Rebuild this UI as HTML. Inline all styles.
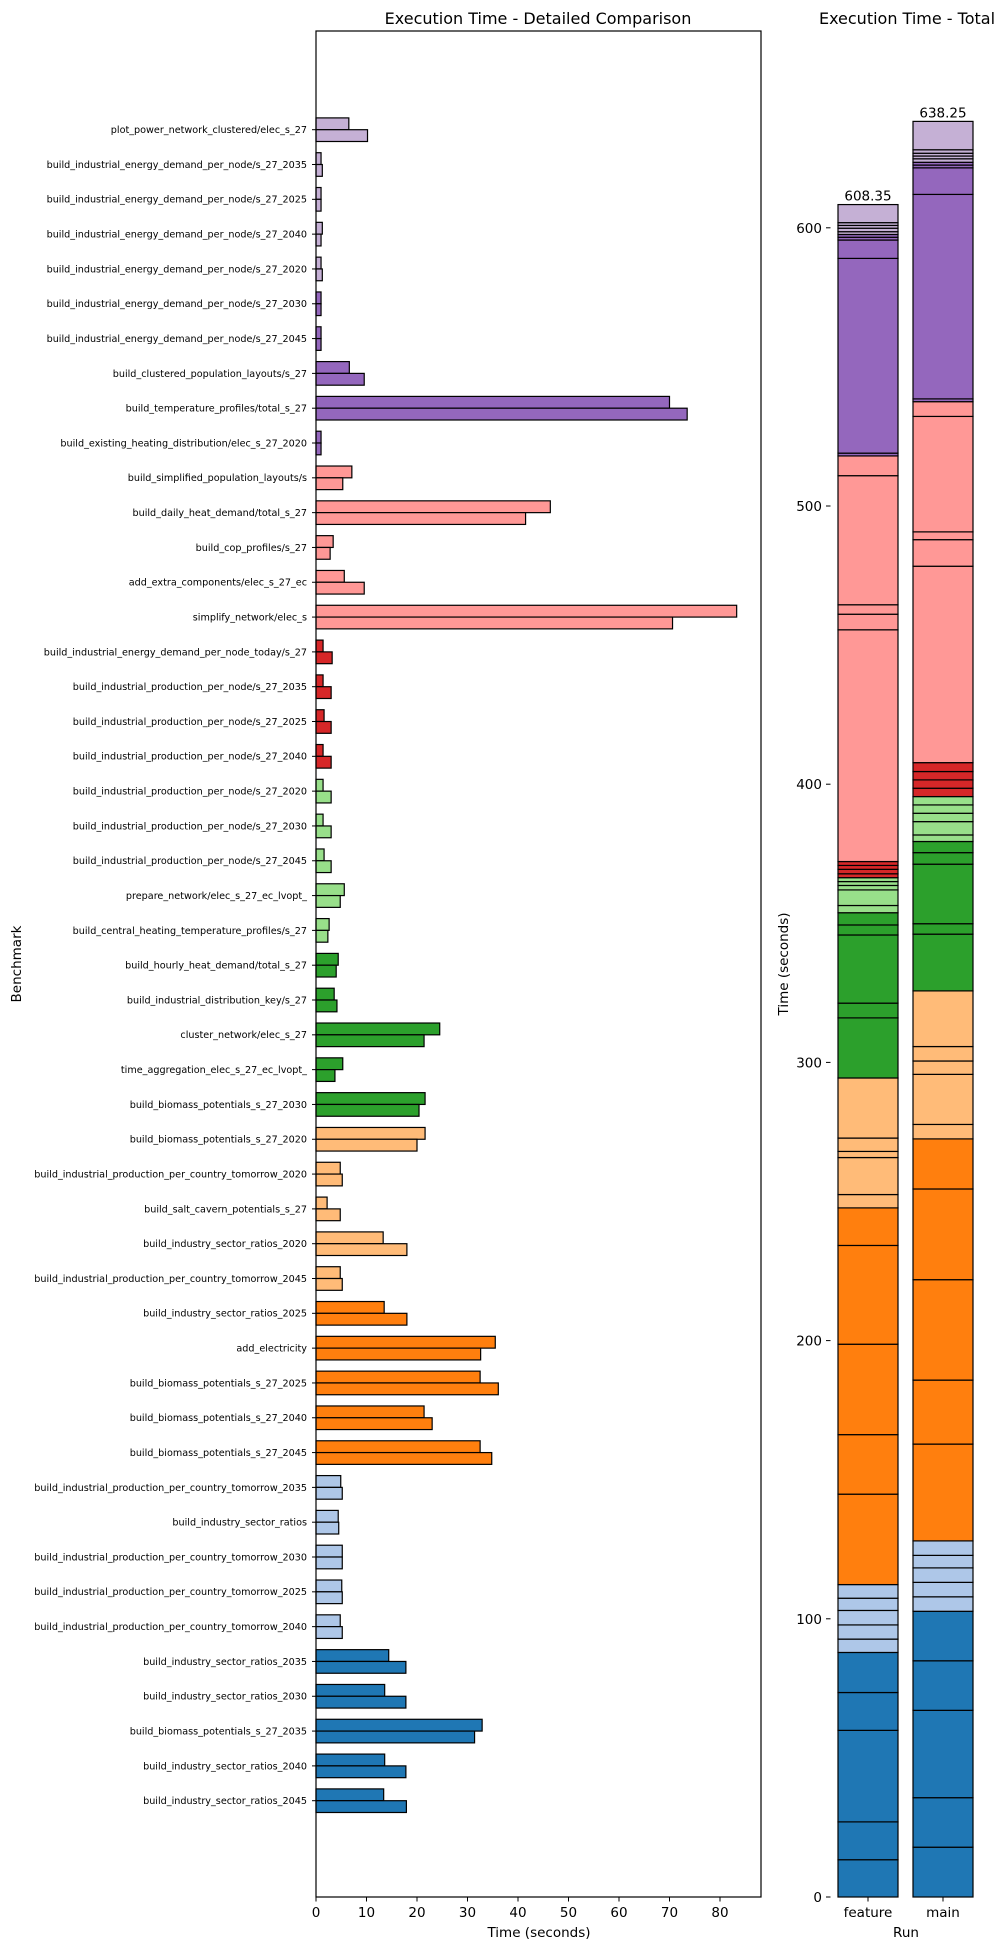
<!DOCTYPE html>
<html><head><meta charset="utf-8">
<style>
html,body{margin:0;padding:0;background:#fff;}
svg{display:block;font-family:"DejaVu Sans","Liberation Sans",sans-serif;}
</style></head>
<body>
<svg id="chart" width="1007" height="1950" viewBox="0 0 1007 1950" xmlns="http://www.w3.org/2000/svg">
<text x="538" y="24" font-size="16" text-anchor="middle">Execution Time - Detailed Comparison</text>
<text x="907" y="24" font-size="16" text-anchor="middle">Execution Time - Total</text>
<g id="left"></g>
<g id="right"></g>
<text x="539" y="1937" font-size="13.5" text-anchor="middle">Time (seconds)</text>
<text transform="translate(21,964) rotate(-90)" font-size="13.5" text-anchor="middle">Benchmark</text>
<text x="906" y="1937" font-size="13.5" text-anchor="middle">Run</text>
<text transform="translate(788,964) rotate(-90)" font-size="13.5" text-anchor="middle">Time (seconds)</text>
</svg>
<script>
const categories = [
"plot_power_network_clustered/elec_s_27",
"build_industrial_energy_demand_per_node/s_27_2035",
"build_industrial_energy_demand_per_node/s_27_2025",
"build_industrial_energy_demand_per_node/s_27_2040",
"build_industrial_energy_demand_per_node/s_27_2020",
"build_industrial_energy_demand_per_node/s_27_2030",
"build_industrial_energy_demand_per_node/s_27_2045",
"build_clustered_population_layouts/s_27",
"build_temperature_profiles/total_s_27",
"build_existing_heating_distribution/elec_s_27_2020",
"build_simplified_population_layouts/s",
"build_daily_heat_demand/total_s_27",
"build_cop_profiles/s_27",
"add_extra_components/elec_s_27_ec",
"simplify_network/elec_s",
"build_industrial_energy_demand_per_node_today/s_27",
"build_industrial_production_per_node/s_27_2035",
"build_industrial_production_per_node/s_27_2025",
"build_industrial_production_per_node/s_27_2040",
"build_industrial_production_per_node/s_27_2020",
"build_industrial_production_per_node/s_27_2030",
"build_industrial_production_per_node/s_27_2045",
"prepare_network/elec_s_27_ec_lvopt_",
"build_central_heating_temperature_profiles/s_27",
"build_hourly_heat_demand/total_s_27",
"build_industrial_distribution_key/s_27",
"cluster_network/elec_s_27",
"time_aggregation_elec_s_27_ec_lvopt_",
"build_biomass_potentials_s_27_2030",
"build_biomass_potentials_s_27_2020",
"build_industrial_production_per_country_tomorrow_2020",
"build_salt_cavern_potentials_s_27",
"build_industry_sector_ratios_2020",
"build_industrial_production_per_country_tomorrow_2045",
"build_industry_sector_ratios_2025",
"add_electricity",
"build_biomass_potentials_s_27_2025",
"build_biomass_potentials_s_27_2040",
"build_biomass_potentials_s_27_2045",
"build_industrial_production_per_country_tomorrow_2035",
"build_industry_sector_ratios",
"build_industrial_production_per_country_tomorrow_2030",
"build_industrial_production_per_country_tomorrow_2025",
"build_industrial_production_per_country_tomorrow_2040",
"build_industry_sector_ratios_2035",
"build_industry_sector_ratios_2030",
"build_biomass_potentials_s_27_2035",
"build_industry_sector_ratios_2040",
"build_industry_sector_ratios_2045"];
const featureTimes = [6.5,1.0,1.0,1.25,1.0,1.0,1.0,6.6,70.0,1.0,7.1,46.4,3.4,5.6,83.3,1.4,1.4,1.6,1.4,1.4,1.4,1.6,5.6,2.6,4.4,3.6,24.5,5.3,21.6,21.6,4.8,2.2,13.3,4.8,13.5,35.5,32.5,21.4,32.5,4.9,4.4,5.2,5.1,4.8,14.4,13.6,32.9,13.6,13.4];
const mainTimes = [10.2,1.25,1.0,1.0,1.25,1.0,1.0,9.55,73.5,1.0,5.3,41.5,2.8,9.55,70.6,3.2,3.0,3.0,3.0,3.0,3.0,3.0,4.8,2.35,4.0,4.15,21.4,3.75,20.4,20.0,5.2,4.8,18.0,5.2,18.0,32.6,36.1,23.0,34.8,5.2,4.5,5.2,5.2,5.2,17.8,17.8,31.4,17.8,17.9];
const xTicks = [0,10,20,30,40,50,60,70,80];
const yTicksTotal = [0,100,200,300,400,500,600];
const runs = ["feature","main"];
const palette = ["#c5b0d5","#9467bd","#ff9896","#d62728","#98df8a","#2ca02c","#ffbb78","#ff7f0e","#aec7e8","#1f77b4"];
const groupSizes = [5,5,5,4,5,5,5,5,5,5];

const NS = "http://www.w3.org/2000/svg";
function mk(tag, attrs, parent){const e=document.createElementNS(NS,tag);for(const k in attrs)e.setAttribute(k,attrs[k]);parent.appendChild(e);return e;}
const colors=[];groupSizes.forEach((n,g)=>{for(let i=0;i<n;i++)colors.push(palette[g]);});

// left axes
const L={x0:316,x1:761,y0:31,y1:1897};
const xPx=v=>L.x0+v*5.05;
const step=(1800.7-129.7)/(categories.length-1);
const catY=i=>129.7+i*step;
const band=11.8;
const left=document.getElementById('left');
categories.forEach((c,i)=>{
  const cy=catY(i);
  const b1=mk('rect',{x:xPx(0),y:cy-band,width:xPx(featureTimes[i])-xPx(0),height:band,fill:colors[i],stroke:'#000','stroke-width':1.2},left);
  
  
  const b2=mk('rect',{x:xPx(0),y:cy,width:xPx(mainTimes[i])-xPx(0),height:band,fill:colors[i],stroke:'#000','stroke-width':1.2},left);
  
  
  mk('line',{x1:L.x0-4,x2:L.x0,y1:cy,y2:cy,stroke:'#000','stroke-width':1},left);
  const t=mk('text',{x:L.x0-9,y:cy+3.4,'font-size':9.65,'text-anchor':'end'},left);
  t.textContent=c;
  
  
});
const frame=mk('rect',{x:L.x0,y:L.y0,width:L.x1-L.x0,height:L.y1-L.y0,fill:'none',stroke:'#000','stroke-width':1.2},left);


xTicks.forEach(v=>{
  const x=xPx(v);
  mk('line',{x1:x,x2:x,y1:L.y1,y2:L.y1+4.5,stroke:'#000','stroke-width':1},left);
  const t=mk('text',{x:x,y:L.y1+20,'font-size':13.5,'text-anchor':'middle'},left);
  t.textContent=v;
  
  
});

// right axes
const R={y0:1897};
const yPx=v=>R.y0-v*2.782;
const right=document.getElementById('right');
const barX=[838,913];const barW=60;
[featureTimes,mainTimes].forEach((arr,r)=>{
  let acc=0;
  for(let i=arr.length-1;i>=0;i--){
    const s=mk('rect',{x:barX[r],y:yPx(acc+arr[i]),width:barW,height:yPx(acc)-yPx(acc+arr[i]),fill:colors[i],stroke:'#000','stroke-width':1.2},right);
    
    
    acc+=arr[i];
  }
  const t=mk('text',{x:barX[r]+barW/2,y:yPx(acc)-4,'font-size':13.5,'text-anchor':'middle'},right);
  t.textContent=acc.toFixed(2);
  
  
  mk('line',{x1:barX[r]+barW/2,x2:barX[r]+barW/2,y1:R.y0,y2:R.y0+4.5,stroke:'#000','stroke-width':1},right);
  const lt=mk('text',{x:barX[r]+barW/2,y:R.y0+20,'font-size':13.5,'text-anchor':'middle'},right);
  lt.textContent=runs[r];
  
  
});
yTicksTotal.forEach(v=>{
  const y=yPx(v);
  mk('line',{x1:826,x2:830.5,y1:y,y2:y,stroke:'#000','stroke-width':1},right);
  const t=mk('text',{x:822,y:y+5,'font-size':13.5,'text-anchor':'end'},right);
  t.textContent=v;
  
  
});
</script>
</body></html>
